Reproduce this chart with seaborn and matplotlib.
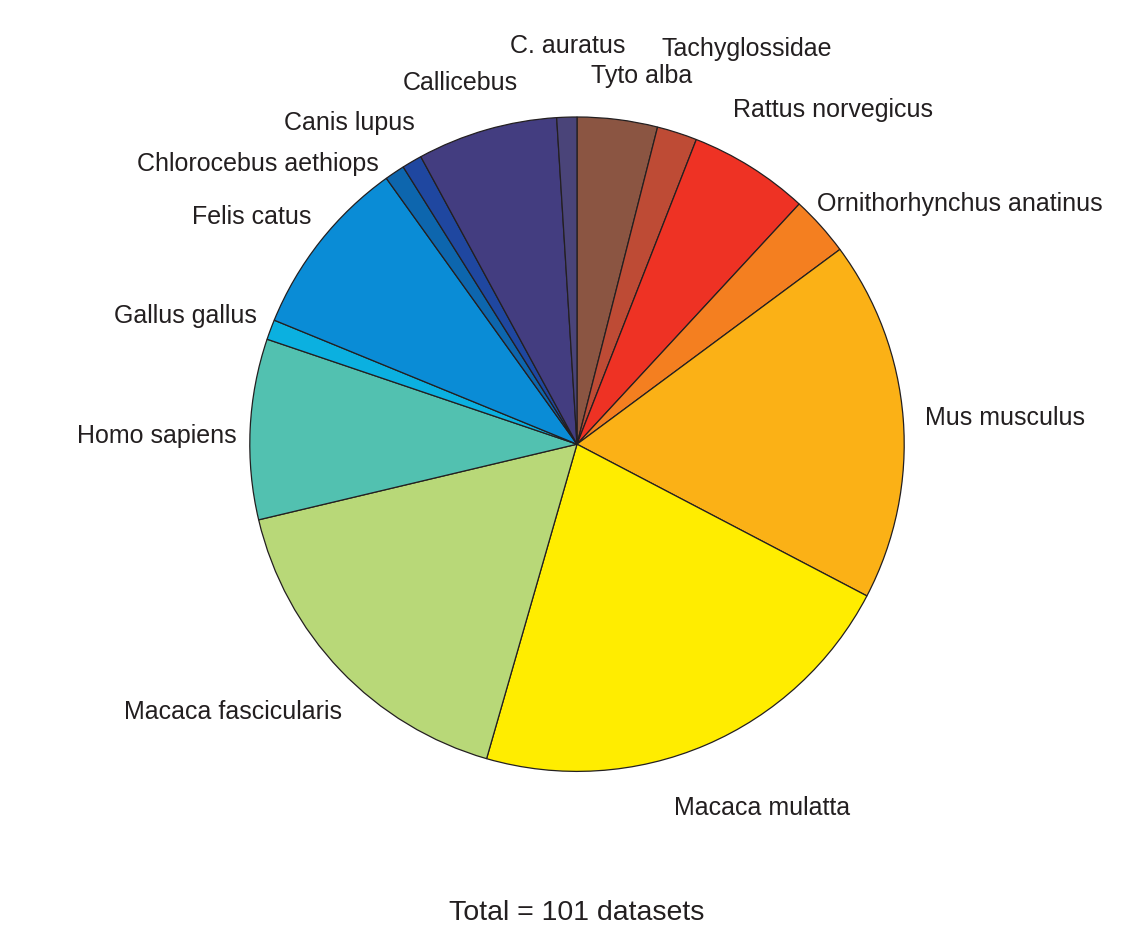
import matplotlib
matplotlib.use("Agg")
import matplotlib.pyplot as plt
import seaborn as sns

# ---- data ----
species = ["Tyto alba", "Tachyglossidae", "Rattus norvegicus", "Ornithorhynchus anatinus",
           "Mus musculus", "Macaca mulatta", "Macaca fascicularis", "Homo sapiens",
           "Gallus gallus", "Felis catus", "Chlorocebus aethiops", "Canis lupus",
           "Callicebus", "C. auratus"]
counts = [4, 2, 6, 3, 18, 22, 17, 9, 1, 9, 1, 1, 7, 1]
colors = ["#8B5542", "#BE4B35", "#EE3224", "#F47F20", "#FBB116", "#FFED00",
          "#B8D878", "#52C1B0", "#0BB0E0", "#0A8CD6", "#0D66AE", "#1F47A0",
          "#433D80", "#4A4479"]
total_label = "Total = 101 datasets"

# label positions in pixel coordinates (layout only)
label_pos = {
    "Tyto alba": (642, 75),
    "Tachyglossidae": (747, 48),
    "Rattus norvegicus": (833, 109),
    "Ornithorhynchus anatinus": (960, 203),
    "Mus musculus": (1005, 417),
    "Macaca mulatta": (762, 807),
    "Macaca fascicularis": (233, 711),
    "Homo sapiens": (157, 435),
    "Gallus gallus": (185, 315),
    "Felis catus": (252, 216),
    "Chlorocebus aethiops": (258, 163),
    "Canis lupus": (349, 122),
    "Callicebus": (460, 82),
    "C. auratus": (568, 45),
}

W, H = 1141, 945
sns.set_theme(style="white")
plt.rcParams["font.family"] = ["Liberation Sans", "DejaVu Sans"]

fig = plt.figure(figsize=(W / 100, H / 100), dpi=100)
ax = fig.add_axes([0, 0, 1, 1])

pal = sns.color_palette(colors)
cx, cy, r = 577, H - 445.2, 327.2
ax.pie(counts, colors=pal, startangle=90, counterclock=False,
       center=(cx, cy), radius=r,
       wedgeprops=dict(edgecolor="#231F20", linewidth=0.9))
ax.set_xlim(0, W)
ax.set_ylim(0, H)
ax.set_aspect("equal")
ax.axis("off")

txt_color = "#231F20"
for name in species:
    x, y = label_pos[name]
    ax.text(x, H - (y + 8), name, ha="center", va="baseline",
            fontsize=18, color=txt_color)

ax.text(577, H - 920, total_label, ha="center", va="baseline",
        fontsize=20.5, color=txt_color)

fig.savefig("out.png", dpi=100, facecolor="white")
